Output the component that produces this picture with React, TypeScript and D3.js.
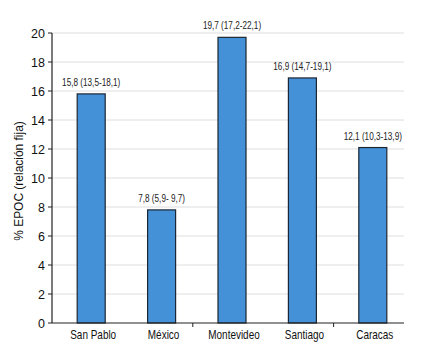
import React from "react";
import * as d3 from "d3";

const categories = ["San Pablo", "México", "Montevideo", "Santiago", "Caracas"];
const values = [15.8, 7.8, 19.7, 16.9, 12.1];
const valueLabels = [
  "15,8 (13,5-18,1)",
  "7,8 (5,9- 9,7)",
  "19,7 (17,2-22,1)",
  "16,9 (14,7-19,1)",
  "12,1 (10,3-13,9)",
];
const yTicks = [0, 2, 4, 6, 8, 10, 12, 14, 16, 18, 20];
const yTitle = "% EPOC (relación fija)";

export default function App() {
  const W = 431, H = 358;
  const left = 52, right = 404, top = 33, bottom = 323;
  const x = d3.scaleBand<string>().domain(categories).range([left, right]);
  const y = d3.scaleLinear().domain([0, 20]).range([bottom, top]);
  const barW = 28;
  const barShift = 4;
  const font = "'Liberation Sans', Arial, sans-serif";
  const bw = x.bandwidth();
  return (
    <svg width={W} height={H} style={{ position: "absolute", left: 0, top: 0, background: "#fff" }}>
      {yTicks.filter((t) => t > 0).map((t) => (
        <line key={"g" + t} x1={left} x2={right} y1={y(t)} y2={y(t)} stroke="#dedede" strokeWidth={1} />
      ))}
      {categories.map((c, i) => {
        const cx = (x(c) as number) + bw / 2 + barShift;
        return (
          <g key={c}>
            <rect x={cx - barW / 2} y={y(values[i])} width={barW} height={y(0) - y(values[i])}
              fill="#4491d7" stroke="#1c2633" strokeWidth={1.2} />
            <text transform={`translate(${cx},${y(values[i]) - 8}) scale(0.78,1)`} textAnchor="middle"
              fontFamily={font} fontSize={10.5} fill="#222">
              {valueLabels[i]}
            </text>
            <text transform={`translate(${cx + 2},338.5) scale(0.83,1)`} textAnchor="middle"
              fontFamily={font} fontSize={12} fill="#111">
              {c}
            </text>
          </g>
        );
      })}
      <line x1={left} x2={left} y1={top} y2={bottom} stroke="#222" strokeWidth={1.2} />
      <line x1={left} x2={right} y1={bottom} y2={bottom} stroke="#222" strokeWidth={1.2} />
      {yTicks.map((t) => (
        <g key={"t" + t}>
          <line x1={left - 4} x2={left} y1={y(t)} y2={y(t)} stroke="#222" strokeWidth={1} />
          <text x={left - 7} y={y(t) + 4.5} textAnchor="end" fontFamily={font} fontSize={12.5} fill="#111">{t}</text>
        </g>
      ))}
      {[2, 4].map((k) => {
        const tx = x(categories[k]) as number;
        return <line key={"xt" + k} x1={tx} x2={tx} y1={bottom} y2={bottom + 4} stroke="#222" strokeWidth={1} />;
      })}
      <text transform={`translate(23,181) rotate(-90) scale(0.92,1)`} textAnchor="middle"
        fontFamily={font} fontSize={13} fill="#111">{yTitle}</text>
    </svg>
  );
}
